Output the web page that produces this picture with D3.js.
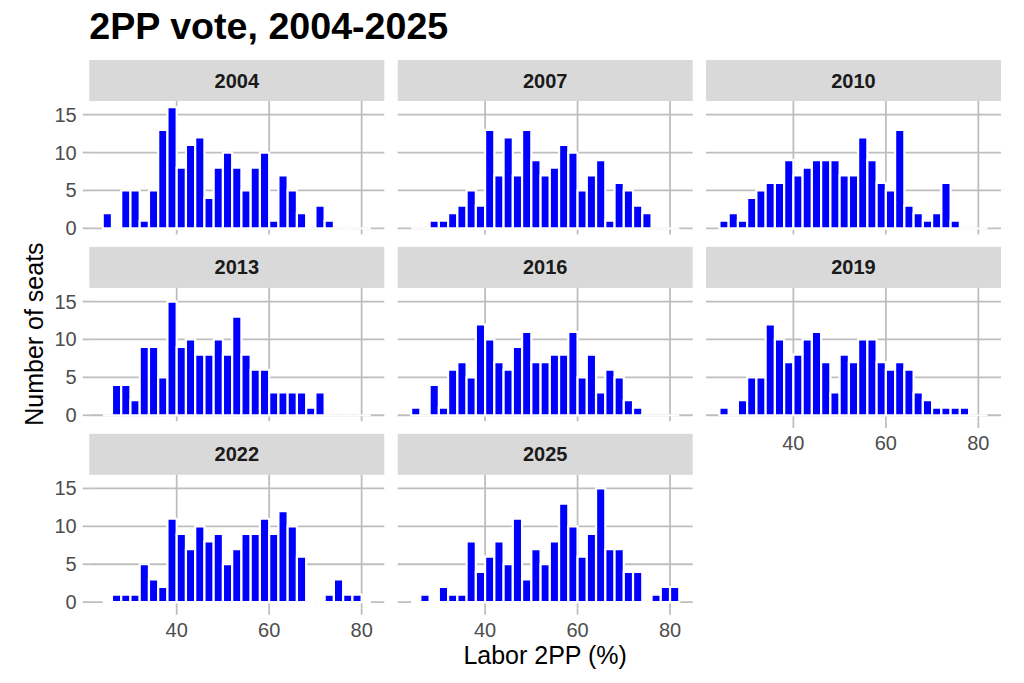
<!DOCTYPE html>
<html><head><meta charset="utf-8">
<script src="https://cdn.jsdelivr.net/npm/d3@7"></script>
<style>body{margin:0;background:#fff}svg{display:block}text{font-family:"Liberation Sans",Arial,sans-serif}</style>
</head><body>
<svg id="chart" width="1024" height="683"></svg>
<script>
// ---- data ----
const years = ["2004","2007","2010","2013","2016","2019","2022","2025"];
const binStarts = [24,26,28,30,32,34,36,38,40,42,44,46,48,50,52,54,56,58,60,62,64,66,68,70,72,74,76,78,80];
const binWidth = 2;
const seats2004 = [2,0,5,5,1,5,13,16,8,11,12,4,8,10,8,5,8,10,1,7,5,2,0,3,1,0,0,0,0];
const seats2007 = [0,0,1,1,2,3,5,3,13,7,12,7,13,9,7,8,11,10,5,7,9,1,6,5,3,2,0,0,0];
const seats2010 = [1,2,1,4,5,6,6,9,7,8,9,9,9,7,7,12,9,6,5,13,3,2,1,2,6,1,0,0,0];
const seats2013 = [0,4,4,2,9,9,5,15,9,10,8,8,10,8,13,8,6,6,3,3,3,3,1,3,0,0,0,0,0];
const seats2016 = [1,0,4,1,6,7,5,12,10,7,6,9,11,7,7,8,8,11,5,8,3,6,5,2,1,0,0,0,0];
const seats2019 = [1,0,2,5,5,12,10,7,8,10,11,7,3,8,7,10,10,7,6,7,6,3,2,1,1,1,1,0,0];
const seats2022 = [0,1,1,1,5,3,2,11,9,7,10,8,9,5,7,9,9,11,9,12,10,6,0,0,1,3,1,1,0];
const seats2025 = [0,1,0,2,1,1,8,4,6,8,5,11,3,7,5,8,13,10,6,9,15,7,7,4,4,0,1,2,2];
const xTicks = [40,60,80];
const yTicks = [0,5,10,15];
const titleText = "2PP vote, 2004-2025";
const xTitle = "Labor 2PP (%)";
const yTitle = "Number of seats";

const seriesByYear = [seats2004,seats2007,seats2010,seats2013,seats2016,seats2019,seats2022,seats2025];

// ---- layout ----
const svg = d3.select("#chart");
const colLeft = [89.3, 397.7, 706];
const panelW = 295;
const rowTop0 = 60, rowPitch = 186.9, stripH = 41, panelH = 133.4;
const nCols = 3;
const grid = "#BEBEBE";

const xMin = d3.min(binStarts), xMax = d3.max(binStarts) + binWidth;
const xPad = (xMax - xMin) * 0.05;
const yMax = d3.max(seriesByYear.flat());
const yPad = yMax * 0.05;

const lastRowOfCol = c => { let r = 0; years.forEach((y,i)=>{ if (i % nCols === c) r = Math.floor(i / nCols); }); return r; };

years.forEach((yr, i) => {
  const r = Math.floor(i / nCols), c = i % nCols;
  const left = colLeft[c];
  const stripTop = rowTop0 + r * rowPitch;
  const pTop = stripTop + stripH;
  const pBot = pTop + panelH;
  const x = d3.scaleLinear().domain([xMin - xPad, xMax + xPad]).range([left, left + panelW]);
  const y = d3.scaleLinear().domain([-yPad, yMax + yPad]).range([pBot, pTop]);
  const g = svg.append("g");

  // strip
  g.append("rect").attr("x", left).attr("y", stripTop).attr("width", panelW).attr("height", stripH).attr("fill", "#D9D9D9");
  g.append("text").attr("x", left + panelW/2).attr("y", stripTop + stripH/2 + 7)
    .attr("text-anchor", "middle").attr("font-size", 20).attr("font-weight", "bold").attr("fill", "#1A1A1A").text(yr);

  // gridlines
  g.selectAll(".hg").data(yTicks).join("line")
    .attr("x1", left).attr("x2", left + panelW).attr("y1", d => y(d)).attr("y2", d => y(d))
    .attr("stroke", grid).attr("stroke-width", 1.8);
  g.selectAll(".vg").data(xTicks).join("line")
    .attr("y1", pTop).attr("y2", pBot).attr("x1", d => x(d)).attr("x2", d => x(d))
    .attr("stroke", grid).attr("stroke-width", 1.8);

  // bars
  const counts = seriesByYear[i];
  g.selectAll(".bar").data(binStarts.map((b, k) => ({b, n: counts[k]}))).join("path")
    .attr("d", d => {
      const x0 = x(d.b), x1 = x(d.b + binWidth), y0 = y(0), y1 = y(d.n);
      return `M${x0},${y0}H${x1}V${y1}H${x0}Z`;
    })
    .attr("fill", "#0000FF").attr("stroke", "#FFFFFF").attr("stroke-width", 2.2);

  // y axis (first column)
  if (c === 0) {
    g.selectAll(".yt").data(yTicks).join("line")
      .attr("x1", left - 6.6).attr("x2", left).attr("y1", d => y(d)).attr("y2", d => y(d))
      .attr("stroke", grid).attr("stroke-width", 1.8);
    g.selectAll(".yl").data(yTicks).join("text")
      .attr("x", left - 12.6).attr("y", d => y(d) + 7).attr("text-anchor", "end")
      .attr("font-size", 20).attr("fill", "#4D4D4D").text(d => d);
  }
  // x axis (bottom panel of each column)
  if (r === lastRowOfCol(c)) {
    g.selectAll(".xt").data(xTicks).join("line")
      .attr("x1", d => x(d)).attr("x2", d => x(d)).attr("y1", pBot).attr("y2", pBot + 6.6)
      .attr("stroke", grid).attr("stroke-width", 1.8);
    g.selectAll(".xl").data(xTicks).join("text")
      .attr("x", d => x(d)).attr("y", pBot + 28.4).attr("text-anchor", "middle")
      .attr("font-size", 20).attr("fill", "#4D4D4D").text(d => d);
  }
});

// titles
svg.append("text").attr("x", 89.3).attr("y", 39.3).attr("font-size", 36).attr("font-weight", "bold")
  .attr("textLength", 359).attr("lengthAdjust", "spacingAndGlyphs")
  .attr("fill", "#000").text(titleText);
svg.append("text").attr("x", (colLeft[0] + colLeft[2] + panelW) / 2).attr("y", 664)
  .attr("text-anchor", "middle").attr("font-size", 25).attr("fill", "#000").text(xTitle);
svg.append("text").attr("transform", `translate(43,${(rowTop0 + rowTop0 + 2*rowPitch + stripH + panelH)/2}) rotate(-90)`)
  .attr("text-anchor", "middle").attr("font-size", 25).attr("fill", "#000").text(yTitle);
</script>
</body></html>
